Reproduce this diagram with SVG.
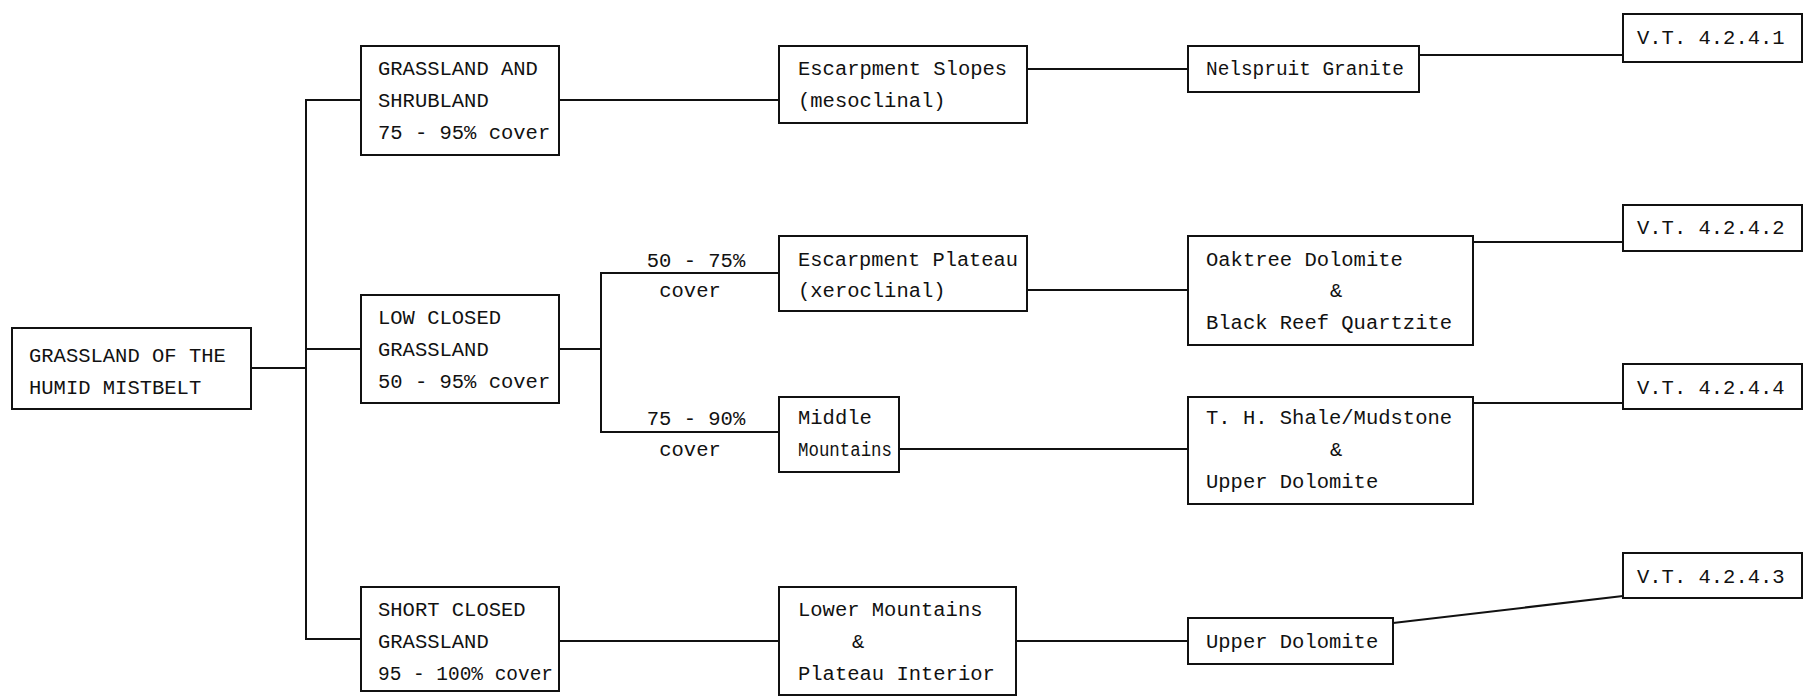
<svg xmlns="http://www.w3.org/2000/svg" width="1805" height="696" viewBox="0 0 1805 696">
<style>
rect{fill:#fff;stroke:#111;stroke-width:2}
text{font-family:"Liberation Mono","DejaVu Sans Mono",monospace;font-size:20.5px;fill:#111}
.c{stroke:#111;stroke-width:2;fill:none}
.m{text-anchor:middle}
</style>
<rect x="0" y="0" width="1805" height="696" style="stroke:none"/>
<g id="connectors">
<polyline class="c" points="251,368 306,368"/>
<polyline class="c" points="361,100 306,100 306,639 361,639"/>
<polyline class="c" points="306,349 361,349"/>
<polyline class="c" points="559,100 779,100"/>
<polyline class="c" points="1027,69 1188,69"/>
<polyline class="c" points="1419,55 1623,55"/>
<polyline class="c" points="559,349 601,349"/>
<polyline class="c" points="779,273 601,273 601,432 779,432"/>
<polyline class="c" points="1027,290 1188,290"/>
<polyline class="c" points="1473,242 1623,242"/>
<polyline class="c" points="899,449 1188,449"/>
<polyline class="c" points="1473,403 1623,403"/>
<polyline class="c" points="559,641 779,641"/>
<polyline class="c" points="1016,641 1188,641"/>
<polyline class="c" points="1393,623 1623,596"/>
<text x="696" y="267" class="m">50 - 75%</text>
<text x="690" y="297" class="m">cover</text>
<text x="696" y="425" class="m">75 - 90%</text>
<text x="690" y="456" class="m">cover</text>
</g>
<g id="root">
<rect x="12" y="328" width="239" height="81"/>
<text x="29" y="362">GRASSLAND OF THE</text>
<text x="29" y="394">HUMID MISTBELT</text>
</g>
<g id="grassland-shrubland">
<rect x="361" y="46" width="198" height="109"/>
<text x="378" y="75">GRASSLAND AND</text>
<text x="378" y="107">SHRUBLAND</text>
<text x="378" y="139">75 - 95% cover</text>
</g>
<g id="low-closed">
<rect x="361" y="295" width="198" height="108"/>
<text x="378" y="324">LOW CLOSED</text>
<text x="378" y="356">GRASSLAND</text>
<text x="378" y="388">50 - 95% cover</text>
</g>
<g id="short-closed">
<rect x="361" y="587" width="198" height="104"/>
<text x="378" y="616">SHORT CLOSED</text>
<text x="378" y="648">GRASSLAND</text>
<text x="378" y="680" textLength="175" lengthAdjust="spacingAndGlyphs">95 - 100% cover</text>
</g>
<g id="escarpment-slopes">
<rect x="779" y="46" width="248" height="77"/>
<text x="798" y="75">Escarpment Slopes</text>
<text x="798" y="107">(mesoclinal)</text>
</g>
<g id="escarpment-plateau">
<rect x="779" y="236" width="248" height="75"/>
<text x="798" y="266" textLength="220" lengthAdjust="spacingAndGlyphs">Escarpment Plateau</text>
<text x="798" y="297">(xeroclinal)</text>
</g>
<g id="middle-mountains">
<rect x="779" y="397" width="120" height="75"/>
<text x="798" y="424">Middle</text>
<text x="798" y="456" textLength="94" lengthAdjust="spacingAndGlyphs">Mountains</text>
</g>
<g id="lower-mountains">
<rect x="779" y="587" width="237" height="108"/>
<text x="798" y="616">Lower Mountains</text>
<text x="852" y="648">&amp;</text>
<text x="798" y="680">Plateau Interior</text>
</g>
<g id="nelspruit">
<rect x="1188" y="46" width="231" height="46"/>
<text x="1206" y="75" textLength="198" lengthAdjust="spacingAndGlyphs">Nelspruit Granite</text>
</g>
<g id="oaktree">
<rect x="1188" y="236" width="285" height="109"/>
<text x="1206" y="266">Oaktree Dolomite</text>
<text x="1330" y="297">&amp;</text>
<text x="1206" y="329">Black Reef Quartzite</text>
</g>
<g id="th-shale">
<rect x="1188" y="397" width="285" height="107"/>
<text x="1206" y="424">T. H. Shale/Mudstone</text>
<text x="1330" y="456">&amp;</text>
<text x="1206" y="488">Upper Dolomite</text>
</g>
<g id="upper-dolomite">
<rect x="1188" y="618" width="205" height="46"/>
<text x="1206" y="648">Upper Dolomite</text>
</g>
<g id="vt1">
<rect x="1623" y="14" width="179" height="48"/>
<text x="1637" y="44">V.T. 4.2.4.1</text>
</g>
<g id="vt2">
<rect x="1623" y="205" width="179" height="46"/>
<text x="1637" y="234">V.T. 4.2.4.2</text>
</g>
<g id="vt4">
<rect x="1623" y="364" width="179" height="45"/>
<text x="1637" y="394">V.T. 4.2.4.4</text>
</g>
<g id="vt3">
<rect x="1623" y="553" width="179" height="45"/>
<text x="1637" y="583">V.T. 4.2.4.3</text>
</g>
</svg>
